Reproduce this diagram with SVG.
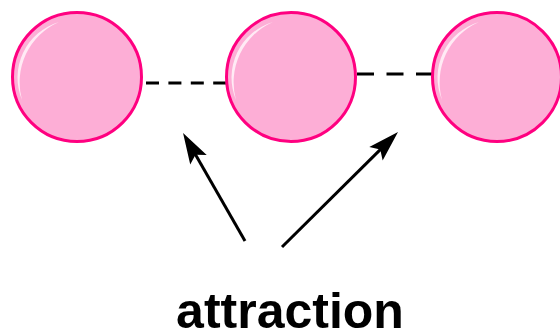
<svg xmlns="http://www.w3.org/2000/svg" width="560" height="331" viewBox="0 0 560 331">
<style>
.ball{fill:#fdaed6;stroke:#ff0080;stroke-width:3}
.hl{fill:#ffffff;fill-opacity:0.75}
.bond{stroke:#000;stroke-width:3;fill:none}
.arr{stroke:#000;stroke-width:3;fill:none;marker-end:url(#head)}
.label{font-family:"Liberation Sans",Arial,sans-serif;font-weight:bold;font-size:50px;fill:#000}
</style>
<defs>
<marker id="head" markerUnits="userSpaceOnUse" markerWidth="40" markerHeight="40" refX="0" refY="0" orient="auto" overflow="visible">
<path d="M20,0 L-11,-9.5 L-5,0 L-11,9.5 Z" fill="#000"/>
</marker>
</defs>
<g id="connectors">
<line class="bond" x1="146" y1="83" x2="227" y2="83" stroke-dasharray="13,9.4"/>
<line class="bond" x1="357" y1="74" x2="434" y2="74" stroke-dasharray="17,12.5"/>
<line class="arr" x1="245" y1="241" x2="193" y2="150.3"/>
<line class="arr" x1="282" y1="247" x2="383.8" y2="146.1"/>
</g>
<g id="atom1">
<circle class="ball" cx="77" cy="77" r="64.5"/>
<path class="hl" d="M59,22 A58,58 0 0 0 22,100 A66,66 0 0 1 59,22 Z"/>
</g>
<g id="atom2">
<circle class="ball" cx="291" cy="77" r="64.5"/>
<path class="hl" d="M273,22 A58,58 0 0 0 236,100 A66,66 0 0 1 273,22 Z"/>
</g>
<g id="atom3">
<circle class="ball" cx="497" cy="77" r="64.5"/>
<path class="hl" d="M479,22 A58,58 0 0 0 442,100 A66,66 0 0 1 479,22 Z"/>
</g>
<g id="label">
<text class="label" x="290" y="328" text-anchor="middle">attraction</text>
</g>
</svg>
